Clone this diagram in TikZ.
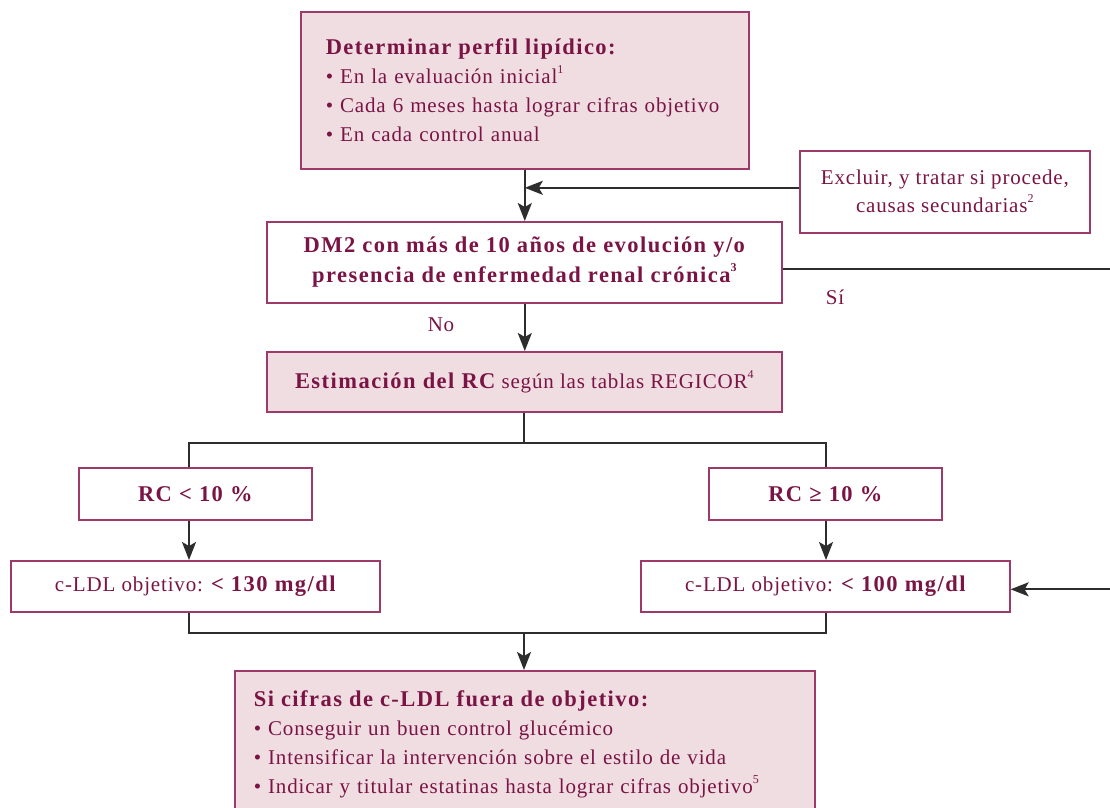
\documentclass[tikz,border=0pt]{standalone}
\usepackage{fontspec}
\setmainfont{Liberation Serif}[LetterSpace=4, BoldFeatures={LetterSpace=6.5}]
\usetikzlibrary{arrows.meta,calc}
\definecolor{txtcol}{RGB}{122,20,68}
\definecolor{bordercol}{RGB}{158,58,106}
\definecolor{fillcol}{RGB}{239,221,226}
\definecolor{linecol}{RGB}{45,45,45}
\newcommand\supr[1]{\raisebox{0.5em}{\fontsize{12}{12}\selectfont #1}}
\newcommand\bd[1]{{\fontsize{22.5}{30}\selectfont\bfseries #1}}
\tikzset{
  box/.style={draw=bordercol, line width=1.6pt, inner sep=0pt, anchor=north west, text=txtcol, align=center},
  pinkbox/.style={box, fill=fillcol},
  wbox/.style={box, fill=white},
  conn/.style={draw=linecol, line width=1.8pt},
  arr/.style={conn, -{Stealth[length=18pt,width=14pt,inset=4pt]}},
  lab/.style={text=txtcol, inner sep=0pt},
  every node/.style={font=\fontsize{21}{29}\selectfont}
}
\begin{document}
\begin{tikzpicture}[x=1pt,y=-1pt]
\useasboundingbox (0,0) rectangle (1110,807);
\fill[white] (0,0) rectangle (1110,807);
% boxes
\node[pinkbox, minimum width=448, minimum height=157, text width=398, align=left] (top) at (300,11)
  {\bd{Determinar perfil lipídico:}\\ • En la evaluación inicial\supr{1}\\ • Cada 6 meses hasta lograr cifras objetivo\\ • En cada control anual};
\node[wbox, minimum width=290, minimum height=82, font=\fontsize{21}{28}\selectfont] (excl) at (799,150)
  {Excluir, y tratar si procede,\\ causas secundarias\supr{2}};
\node[wbox, minimum width=515, minimum height=81, font=\fontsize{22.5}{30}\selectfont\bfseries] (dm2) at (266,221)
  {DM2 con más de 10 años de evolución y/o\\ presencia de enfermedad renal crónica\supr{\bfseries 3}};
\node[pinkbox, minimum width=515, minimum height=60] (est) at (266,351)
  {\bd{Estimación del RC} según las tablas REGICOR\supr{4}};
\node[wbox, minimum width=233, minimum height=52] (rcl) at (78,467) {\bd{RC < 10 \%}};
\node[wbox, minimum width=233, minimum height=52] (rch) at (708,467) {\bd{RC ≥ 10 \%}};
\node[wbox, minimum width=369, minimum height=51] (ldla) at (10,560) {c-LDL objetivo: \bd{< 130 mg/dl}};
\node[wbox, minimum width=369, minimum height=51] (ldlb) at (640,560) {c-LDL objetivo: \bd{< 100 mg/dl}};
\node[pinkbox, inner xsep=19pt, inner ysep=20pt, text width=542, align=left] (bot) at (234,670)
  {\bd{Si cifras de c-LDL fuera de objetivo:}\\ • Conseguir un buen control glucémico\\ • Intensificar la intervención sobre el estilo de vida\\ • Indicar y titular estatinas hasta lograr cifras objetivo\supr{5}};
% labels
\node[lab] (si) at (835,297) {Sí};
\node[lab] (no) at (441,325) {No};
% helper coordinates
\coordinate (lx) at (189,0);
\coordinate (rx) at (826,0);
\coordinate (rr) at (1125,0);
\coordinate (s1) at (524,443);
\coordinate (s2) at (524,633);
% connectors
\draw[arr] (top.south) -- (dm2.north -| top.south);
\draw[arr] ([yshift=4pt]excl.west) -- ([yshift=4pt]excl.west -| top.south);
\draw[arr] (dm2.south -| top.south) -- (est.north -| top.south);
\draw[arr] ([yshift=-6.5pt]dm2.east) -- ([yshift=-6.5pt]dm2.east -| rr) |- ([yshift=-3pt]ldlb.east);
\draw[conn] (est.south -| s1) -- (s1);
\draw[conn] (rcl.north -| lx) |- (s1) -| (rch.north -| rx);
\draw[arr] (rcl.south -| lx) -- (ldla.north -| lx);
\draw[arr] (rch.south -| rx) -- (ldlb.north -| rx);
\draw[conn] (ldla.south -| lx) |- (s2) -| (ldlb.south -| rx);
\draw[arr] (s2) -- (bot.north -| s2);
\end{tikzpicture}
\end{document}
